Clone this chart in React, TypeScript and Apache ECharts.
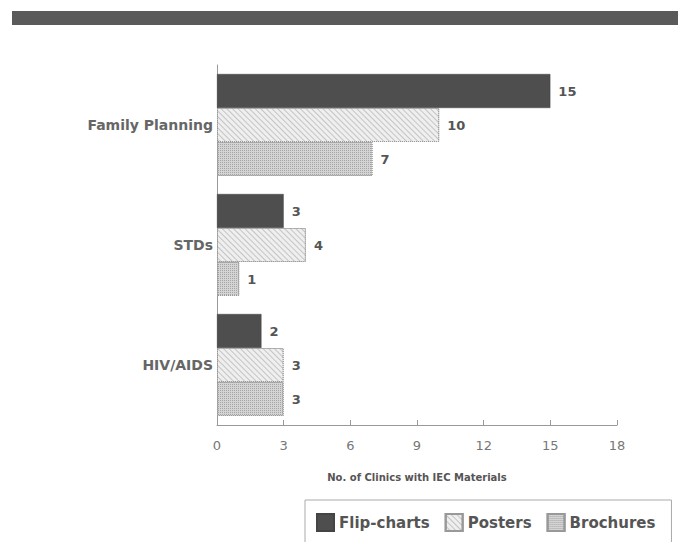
import React, { useEffect, useRef } from "react";
import * as echarts from "echarts";

const categories = ["Family Planning", "STDs", "HIV/AIDS"];
const seriesNames = ["Flip-charts", "Posters", "Brochures"];
const flipCharts = [15, 3, 2];
const posters = [10, 4, 3];
const brochures = [7, 1, 3];
const xTicks = [0, 3, 6, 9, 12, 15, 18];
const axisTitle = "No. of Clinics with IEC Materials";

const FONT = "'DejaVu Sans', Verdana, sans-serif";

export default function App() {
  const ref = useRef<HTMLDivElement>(null);
  useEffect(() => {
    const chart = echarts.init(ref.current!, null, { renderer: "svg" });
    const label = {
      show: true,
      position: "right",
      distance: 8,
      color: "#555",
      fontSize: 13,
      fontWeight: "bold",
      fontFamily: FONT,
    };
    chart.setOption({
      animation: false,
      backgroundColor: "#ffffff",
      textStyle: { fontFamily: FONT },
      graphic: [
        {
          type: "rect",
          shape: { x: 12, y: 11, width: 680, height: 14 },
          style: { fill: "#5a5a5a" },
          silent: true,
        },
      ],
      grid: { left: 217, right: 61, top: 65, bottom: 117, containLabel: false },
      legend: {
        left: 305,
        top: 500,
        data: seriesNames,
        icon: "rect",
        itemWidth: 17,
        itemHeight: 17,
        itemGap: 15,
        padding: [13, 16, 32, 11],
        borderColor: "#aaa",
        borderWidth: 1,
        textStyle: { color: "#555", fontSize: 15, fontWeight: "bold", fontFamily: FONT },
      },
      xAxis: {
        type: "value",
        min: 0,
        max: 18,
        interval: 3,
        splitLine: { show: false },
        axisLine: { show: true, lineStyle: { color: "#999" } },
        axisTick: { show: true, inside: true, length: 5, lineStyle: { color: "#999" } },
        axisLabel: {
          color: "#777",
          fontSize: 13,
          margin: 14,
          fontFamily: FONT,
          formatter: (v: number) => (xTicks.includes(v) ? String(v) : ""),
        },
        name: axisTitle,
        nameLocation: "middle",
        nameGap: 47,
        nameTextStyle: { color: "#555", fontSize: 10, fontWeight: "bold", fontFamily: FONT },
      },
      yAxis: {
        type: "category",
        data: categories,
        inverse: true,
        axisLine: { show: true, lineStyle: { color: "#999" } },
        axisTick: { show: false },
        axisLabel: { color: "#666", fontSize: 14, fontWeight: "bold", margin: 4, fontFamily: FONT },
      },
      series: [
        {
          name: seriesNames[0],
          type: "bar",
          data: flipCharts,
          barGap: "0%",
          barCategoryGap: "15%",
          itemStyle: { color: "#4e4e4e", borderColor: "#444", borderWidth: 0.5 },
          label,
        },
        {
          name: seriesNames[1],
          type: "bar",
          data: posters,
          barGap: "0%",
          barCategoryGap: "15%",
          itemStyle: {
            color: "#efefef",
            borderColor: "#999",
            borderWidth: 1,
            borderType: "dotted",
            decal: {
              symbol: "rect",
              symbolSize: 1,
              dashArrayX: [1, 0],
              dashArrayY: [1, 3],
              rotation: Math.PI / 4,
              color: "rgba(0,0,0,0.18)",
            },
          },
          label,
        },
        {
          name: seriesNames[2],
          type: "bar",
          data: brochures,
          barGap: "0%",
          barCategoryGap: "15%",
          itemStyle: {
            color: "#d4d4d4",
            borderColor: "#999",
            borderWidth: 1,
            borderType: "dotted",
            decal: {
              symbol: "rect",
              symbolSize: 1,
              dashArrayX: [1, 1],
              dashArrayY: [1, 1],
              rotation: 0,
              color: "rgba(0,0,0,0.22)",
            },
          },
          label,
        },
      ],
    });
    return () => chart.dispose();
  }, []);
  return <div ref={ref} style={{ width: 678, height: 542, position: "absolute", left: 0, top: 0 }} />;
}
